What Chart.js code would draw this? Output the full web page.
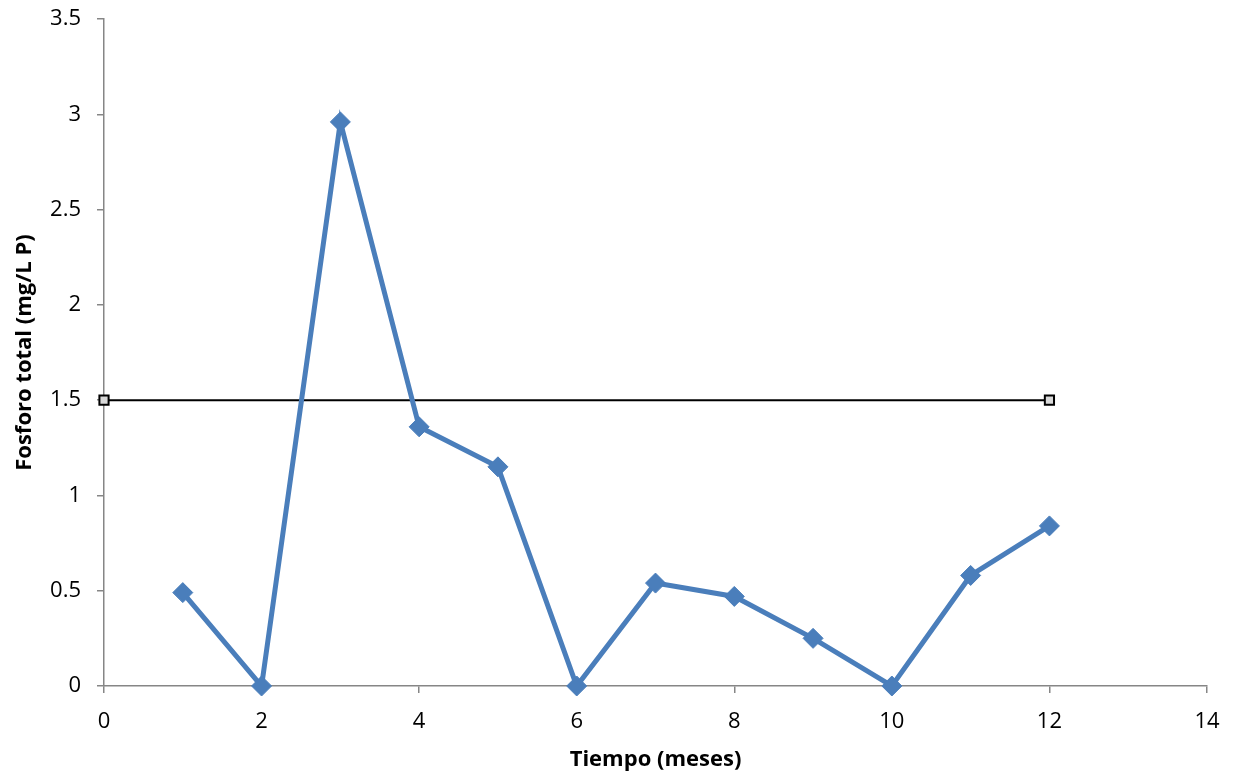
<!DOCTYPE html>
<html>
<head>
<meta charset="utf-8">
<script src="https://cdn.jsdelivr.net/npm/chart.js@4/dist/chart.umd.min.js"></script>
<style>
  html, body { margin: 0; padding: 0; background: #ffffff; }
  #wrap { width: 1237px; height: 776px; }
</style>
</head>
<body>
<div id="wrap"><canvas id="chart" width="1237" height="776"></canvas></div>
<script>
// Monthly total phosphorus measurements
const months = [1, 2, 3, 4, 5, 6, 7, 8, 9, 10, 11, 12];
const phosphorus = [0.49, 0, 2.96, 1.36, 1.15, 0, 0.54, 0.47, 0.25, 0, 0.58, 0.84];

// Reference limit line
const limitX = [0, 12];
const limitY = [1.5, 1.5];

// Axis ticks
const xTicks = [0, 2, 4, 6, 8, 10, 12, 14];
const yTicks = [0, 0.5, 1, 1.5, 2, 2.5, 3, 3.5];

const axisColor = '#868686';
const tickFont = { family: 'Open Sans', size: 22 };
const titleFont = { family: 'Open Sans', size: 22, weight: 'bold' };

new Chart(document.getElementById('chart'), {
  type: 'scatter',
  data: {
    datasets: [
      {
        label: 'Fosforo total',
        data: months.map((m, i) => ({ x: m, y: phosphorus[i] })),
        showLine: true,
        borderColor: '#4a7ebb',
        backgroundColor: '#4a7ebb',
        borderWidth: 5,
        pointStyle: 'rectRot',
        pointRadius: 10,
        pointHoverRadius: 10,
        pointBorderWidth: 1,
        clip: false,
        order: 0
      },
      {
        label: 'Límite',
        data: limitX.map((x, i) => ({ x: x, y: limitY[i] })),
        showLine: true,
        borderColor: '#000000',
        backgroundColor: '#d9d9d9',
        borderWidth: 2,
        pointStyle: 'rect',
        pointRadius: 6.5,
        pointHoverRadius: 6.5,
        pointBorderWidth: 2,
        pointBorderColor: '#000000',
        clip: false,
        order: 1
      }
    ]
  },
  options: {
    responsive: false,
    animation: false,
    layout: { padding: { top: 19, right: 30, left: 0, bottom: 0 } },
    plugins: {
      legend: { display: false },
      tooltip: { enabled: false }
    },
    scales: {
      x: {
        type: 'linear',
        min: 0,
        max: 14,
        afterBuildTicks: (s) => { s.ticks = xTicks.map(v => ({ value: v })); },
        afterFit: (s) => { s.height = 90; s.paddingLeft = 0; s.paddingRight = 0; },
        border: { color: axisColor, width: 1.5 },
        grid: { drawOnChartArea: false, drawTicks: true, tickLength: 7, color: axisColor, lineWidth: 1.5 },
        ticks: { color: '#000000', font: tickFont, padding: 16, maxRotation: 0 },
        title: { display: true, text: 'Tiempo (meses)', color: '#000000', font: titleFont, padding: { top: 0, bottom: 3 } }
      },
      y: {
        type: 'linear',
        min: 0,
        max: 3.5,
        afterBuildTicks: (s) => { s.ticks = yTicks.map(v => ({ value: v })); },
        afterFit: (s) => { s.width = 104; s.paddingTop = 0; s.paddingBottom = 0; },
        border: { color: axisColor, width: 1.5 },
        grid: { drawOnChartArea: false, drawTicks: true, tickLength: 7, color: axisColor, lineWidth: 1.5 },
        ticks: { color: '#000000', font: tickFont, padding: 16, callback: (v) => String(v) },
        title: { display: true, text: 'Fosforo total (mg/L P)', color: '#000000', font: titleFont, padding: { top: 12, bottom: 0 } }
      }
    }
  }
});
</script>
</body>
</html>
